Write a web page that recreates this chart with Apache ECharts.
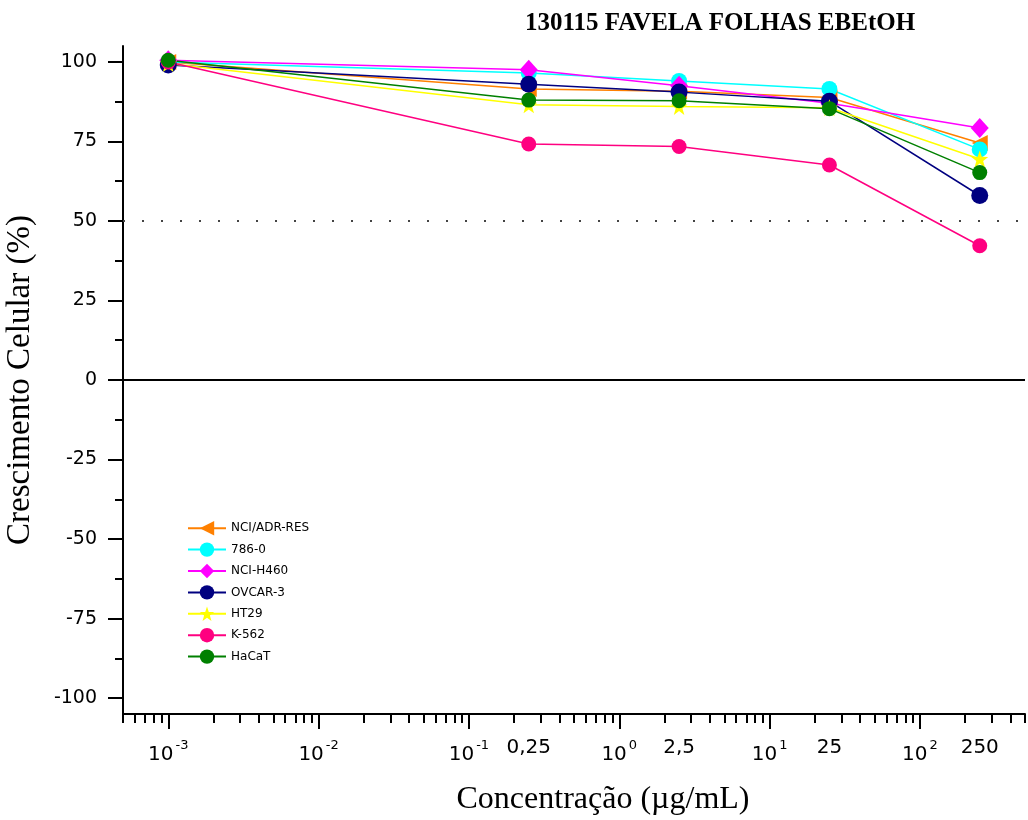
<!DOCTYPE html>
<html>
<head>
<meta charset="utf-8">
<script src="https://cdn.jsdelivr.net/npm/echarts@6/dist/echarts.min.js"></script>
<style>
  html, body { margin: 0; padding: 0; background: #fff; }
  #chart { width: 1028px; height: 820px; }
</style>
</head>
<body>
<div id="chart"></div>
<script>
// concentracoes (ug/mL) e linhagens
var concentracoes = [0.001, 0.25, 2.5, 25, 250];
var linhagens = ['NCI/ADR-RES', '786-0', 'NCI-H460', 'OVCAR-3', 'HT29', 'K-562', 'HaCaT'];

// crescimento celular (%)
var nciAdr = [100, 91.5, 90.8, 88.8, 74.5];
var c7860 = [100, 96.5, 94, 91.5, 72.5];
var nciH460 = [100.5, 97.5, 92.5, 87, 79.2];
var ovcar3 = [99, 93, 90.5, 87.6, 58];
var ht29 = [99.5, 86.5, 86, 85.6, 69.5];
var k562 = [100, 74.2, 73.4, 67.6, 42.2];
var hacat = [100.5, 88, 87.8, 85.3, 65.2];

// ticks
var yTicks = [-100, -75, -50, -25, 0, 25, 50, 75, 100];
var yMinorTicks = [-87.5, -62.5, -37.5, -12.5, 12.5, 37.5, 62.5, 87.5];
var xDecadas = [0.001, 0.01, 0.1, 1, 10, 100];
var xDecadaLabels = ['-3', '-2', '-1', '0', '1', '2'];
var xExtra = [0.25, 2.5, 25, 250];
var xExtraLabels = ['0,25', '2,5', '25', '250'];

var cores = ['#FF8000', '#00FFFF', '#FF00FF', '#000080', '#FFFF00', '#FF0080', '#008000'];
var star = 'path://M0,-10 L2.35,-3.24 L9.51,-3.09 L3.8,1.24 L5.88,8.09 L0,4 L-5.88,8.09 L-3.8,1.24 L-9.51,-3.09 L-2.35,-3.24 Z';
var simbolos = ['triangle', 'circle', 'diamond', 'circle', star, 'circle', 'circle'];
var tamanhos = [16, 16, [18, 20], 17, 17, 15, 15];
var valores = [nciAdr, c7860, nciH460, ovcar3, ht29, k562, hacat];

// minor ticks do eixo log (2..9 x 10^n)
var xMinor = [];
for (var e = -4; e <= 2; e++) {
  for (var m = 2; m <= 9; m++) {
    var v = m * Math.pow(10, e);
    if (v >= 0.0005 && v <= 500) xMinor.push(v);
  }
}

var myChart = echarts.init(document.getElementById('chart'));

var series = linhagens.map(function (nome, i) {
  return {
    name: nome,
    type: 'line',
    xAxisIndex: 0,
    yAxisIndex: 0,
    data: concentracoes.map(function (c, j) { return [c, valores[i][j]]; }),
    symbol: simbolos[i],
    symbolSize: tamanhos[i],
    symbolRotate: i === 0 ? 90 : 0,
    lineStyle: { color: cores[i], width: 1.5 },
    itemStyle: { color: cores[i] },
    animation: false
  };
});

series[0].markLine = {
  silent: true,
  symbol: 'none',
  label: { show: false },
  animation: false,
  data: [
    { yAxis: 0, lineStyle: { color: '#000', width: 2, type: 'solid' } },
    { yAxis: 50, lineStyle: { color: '#444', width: 2, type: [2, 17] } }
  ]
};

var option = {
  backgroundColor: '#fff',
  title: {
    text: '130115 FAVELA FOLHAS EBEtOH',
    left: 520,
    top: 6,
    textStyle: { fontFamily: 'Liberation Serif', fontWeight: 'bold', fontSize: 25, color: '#000' }
  },
  legend: {
    orient: 'vertical',
    left: 187,
    top: 521,
    padding: 0,
    itemWidth: 38,
    itemHeight: 18,
    itemGap: 7,
    data: linhagens,
    textStyle: { fontFamily: 'DejaVu Sans', fontSize: 12, color: '#000' }
  },
  grid: { left: 123, right: 3, top: 46, bottom: 106, outerBoundsMode: 'none', containLabel: false },
  xAxis: [
    {
      type: 'log',
      logBase: 10,
      min: 0.0005,
      max: 500,
      position: 'bottom',
      name: 'Concentração (µg/mL)',
      nameLocation: 'middle',
      nameGap: 70,
      nameTextStyle: { fontFamily: 'Liberation Serif', fontSize: 32, color: '#000', padding: [0, 0, 0, 58] },
      axisLine: { onZero: false, lineStyle: { color: '#000', width: 2 } },
      axisTick: { customValues: xDecadas, length: 15, lineStyle: { color: '#000', width: 2 } },
      axisLabel: {
        customValues: xDecadas,
        margin: 25,
        formatter: function (val) {
          var k = Math.round(Math.log(val) / Math.LN10);
          return '{b|10}{s|' + xDecadaLabels[k + 3] + '}';
        },
        rich: {
          b: { fontFamily: 'DejaVu Sans', fontSize: 20, lineHeight: 26, verticalAlign: 'bottom', color: '#000' },
          s: { fontFamily: 'DejaVu Sans', fontSize: 13, lineHeight: 13, verticalAlign: 'top', color: '#000', padding: [0, 0, 0, 2] }
        }
      },
      splitLine: { show: false }
    },
    {
      type: 'log',
      logBase: 10,
      min: 0.0005,
      max: 500,
      position: 'bottom',
      axisLine: { show: false, onZero: false },
      axisTick: { customValues: xMinor, length: 9, lineStyle: { color: '#000', width: 2 } },
      axisLabel: {
        customValues: xExtra,
        margin: 24,
        formatter: function (val) {
          for (var i = 0; i < xExtra.length; i++) {
            if (Math.abs(val - xExtra[i]) / xExtra[i] < 1e-6) return xExtraLabels[i];
          }
          return '';
        },
        fontFamily: 'DejaVu Sans',
        fontSize: 20,
        color: '#000'
      },
      splitLine: { show: false }
    }
  ],
  yAxis: [
    {
      type: 'value',
      min: -105,
      max: 105,
      position: 'left',
      name: 'Crescimento Celular (%)',
      nameLocation: 'middle',
      nameGap: 86,
      nameTextStyle: { fontFamily: 'Liberation Serif', fontSize: 33, color: '#000' },
      axisLine: { show: true, onZero: false, lineStyle: { color: '#000', width: 2 } },
      axisTick: { show: true, customValues: yTicks, length: 15, lineStyle: { color: '#000', width: 2 } },
      axisLabel: { customValues: yTicks, margin: 26, fontFamily: 'DejaVu Sans', fontSize: 19, color: '#000' },
      splitLine: { show: false }
    },
    {
      type: 'value',
      min: -105,
      max: 105,
      position: 'left',
      axisLine: { show: false, onZero: false },
      axisTick: { show: true, customValues: yMinorTicks, length: 8, lineStyle: { color: '#000', width: 2 } },
      axisLabel: { show: false },
      splitLine: { show: false }
    }
  ],
  series: series
};

myChart.setOption(option);
window.addEventListener('resize', function () { myChart.resize(); });
</script>
</body>
</html>
